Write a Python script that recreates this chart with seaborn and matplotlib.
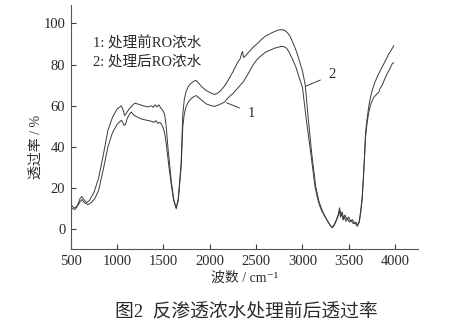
import numpy as np
import pandas as pd
import matplotlib
matplotlib.use("Agg")
import matplotlib.pyplot as plt
import seaborn as sns

# Spectrum after treatment (curve 2): wavenumber (cm^-1) and transmittance (%)
wn_after = [500, 520, 545, 575, 600, 618, 640, 670, 700, 750, 800, 850, 900, 950,
            1000, 1046, 1065, 1081, 1100, 1130, 1160, 1190, 1230, 1280, 1330, 1370,
            1390, 1410, 1430, 1450, 1470, 1490, 1512, 1530, 1548, 1566, 1584, 1610,
            1638, 1660, 1691, 1709, 1725, 1745, 1770, 1799, 1830, 1853, 1880, 1920,
            1960, 2000, 2050, 2080, 2120, 2158, 2200, 2250, 2300, 2330, 2345, 2355,
            2365, 2380, 2420, 2470, 2516, 2560, 2600, 2650, 2696, 2740, 2785, 2810,
            2840, 2870, 2900, 2940, 2970, 3001, 3030, 3066, 3101, 3144, 3180, 3216,
            3260, 3300, 3324, 3345, 3370, 3390, 3402, 3415, 3430, 3445, 3460, 3480,
            3500, 3520, 3540, 3560, 3580, 3595, 3615, 3630, 3647, 3665, 3683, 3700,
            3718, 3735, 3754, 3780, 3808, 3840, 3880, 3910, 3934, 3960, 3988]
tr_after = [12.5, 11, 10.3, 12, 15, 16, 14.5, 13, 14, 18, 25, 36, 48, 54.5,
            58.5, 60, 58, 55.3, 56.5, 58.5, 60, 61.3, 60.8, 60, 59.5, 60,
            59.3, 60.5, 59.5, 60.5, 59, 58, 56, 50, 40, 32, 23.8, 15,
            10, 15, 32, 56, 63, 67, 69.5, 71, 72, 72.3, 71, 69,
            67.5, 66.5, 65.5, 66, 67.5, 69.5, 72.5, 76.5, 81, 83, 85.5, 86.4,
            83.5, 84, 86, 88.5, 90.3, 92.3, 93.8, 95, 96, 96.8, 97, 96.6,
            95.5, 93.5, 90.5, 86, 81.5, 77, 70.5, 53, 37, 21, 13.5, 9,
            5, 2, 1, 2.5, 5, 7.5, 10.5, 7, 8.5, 5.5, 7, 5,
            6, 4, 4.8, 3.2, 3.5, 2, 4, 9, 16, 30, 47, 54,
            60, 64, 67.5, 71, 74, 77, 80.4, 83, 85.3, 87, 89.3]

# Spectrum before treatment (curve 1)
wn_before = [500, 520, 545, 575, 600, 620, 645, 685, 720, 760, 800, 850, 900, 950,
             1000, 1046, 1060, 1074, 1090, 1110, 1135, 1153, 1180, 1220, 1270, 1320,
             1370, 1400, 1420, 1440, 1460, 1480, 1500, 1520, 1540, 1560, 1584, 1610,
             1638, 1660, 1691, 1709, 1725, 1745, 1770, 1799, 1830, 1853, 1880, 1920,
             1960, 2000, 2050, 2100, 2158, 2200, 2250, 2300, 2360, 2420, 2470, 2520,
             2560, 2600, 2650, 2700, 2768, 2800, 2830, 2857, 2890, 2929, 2960, 3001,
             3044, 3091, 3137, 3175, 3209, 3260, 3300, 3324, 3345, 3370, 3390, 3402,
             3412, 3425, 3440, 3455, 3470, 3490, 3510, 3530, 3550, 3570, 3593, 3615,
             3630, 3647, 3665, 3683, 3700, 3718, 3740, 3772, 3800, 3826, 3840, 3862,
             3890, 3916, 3945, 3970, 3988]
tr_before = [10.5, 10, 9.7, 11.5, 13.5, 14.5, 13, 12, 13, 15, 19, 29, 40, 47,
             51, 53, 52, 50.5, 51, 54, 56, 57, 55.5, 54.5, 53.5, 53,
             52.5, 52, 52.8, 51.5, 52, 51, 49, 45, 38, 30, 22, 14,
             10.5, 14, 30, 50, 56, 59.7, 62, 63.5, 64.5, 65, 64, 62.5,
             61, 60.3, 59.7, 60.5, 61.8, 64, 66, 68.5, 71.5, 76, 80, 83,
             84.5, 86, 87, 88, 88.8, 88.8, 88, 86, 83, 79, 74.5, 69,
             53, 37, 20.5, 13, 9, 5, 2, 0.8, 2, 4.5, 7, 9.5,
             6, 7.5, 4.5, 6, 4, 5, 3.5, 4.2, 2.8, 3, 1.5, 3.5,
             8, 15, 29, 45, 52, 57, 61, 64.2, 65.5, 66.7, 68.5, 70,
             73, 75.6, 78, 80.4, 81]

series_labels = ["1: 处理前RO浓水", "2: 处理后RO浓水"]
x_ticks = [500, 1000, 1500, 2000, 2500, 3000, 3500, 4000]
y_ticks = [0, 20, 40, 60, 80, 100]

df = pd.concat([
    pd.DataFrame({"wn": wn_before, "tr": tr_before, "curve": "1"}),
    pd.DataFrame({"wn": wn_after, "tr": tr_after, "curve": "2"}),
], ignore_index=True)

sns.set_style("ticks")
plt.rcParams["font.family"] = ["Liberation Serif", "DejaVu Serif", "Noto Sans CJK SC"]
ink = "#3a3a3a"
txt = "#2a2a2a"

fig = plt.figure(figsize=(4.63, 3.28), dpi=100)
ax = fig.add_axes([0.153, 0.241, 0.750, 0.744])

sns.lineplot(data=df, x="wn", y="tr", hue="curve", palette=[ink, ink],
             estimator=None, sort=False, linewidth=0.7, legend=False, ax=ax)

ax.set_xlim(500, 4250)
ax.set_ylim(-9.5, 109)
ax.set_xticks(x_ticks)
ax.set_yticks(y_ticks)
ax.tick_params(direction="in", length=3.5, width=0.8, colors=ink,
               labelsize=10.5, labelcolor=txt, pad=4)
for side in ("top", "right"):
    ax.spines[side].set_visible(False)
for side in ("left", "bottom"):
    ax.spines[side].set_color("#555555")
    ax.spines[side].set_linewidth(0.8)

ax.set_xlabel("波数 / cm⁻¹", fontsize=10, color=txt, labelpad=3)
ax.set_ylabel("透过率 / %", fontsize=10, color=txt)
ax.yaxis.set_label_coords(-0.08, 0.42)

# Legend-style captions
ax.text(0.064, 0.844, series_labels[0], transform=ax.transAxes,
        fontsize=10.5, color=txt, va="center", ha="left")
ax.text(0.064, 0.766, series_labels[1], transform=ax.transAxes,
        fontsize=10.5, color=txt, va="center", ha="left")

# Curve tags with leader lines
ax.annotate("1", xy=(2182, 61.5), xytext=(2452, 56.5), fontsize=10.5,
            color=txt, ha="center", va="center",
            arrowprops=dict(arrowstyle="-", color=ink, lw=0.7,
                            shrinkA=4, shrinkB=0))
ax.annotate("2", xy=(3035, 69.5), xytext=(3325, 75), fontsize=10.5,
            color=txt, ha="center", va="center",
            arrowprops=dict(arrowstyle="-", color=ink, lw=0.7,
                            shrinkA=4, shrinkB=0))

fig.text(0.531, 0.049, "图2  反渗透浓水处理前后透过率", ha="center", va="center",
         fontsize=13.5, color=txt)

fig.savefig("out.png", dpi=100, facecolor="white")
